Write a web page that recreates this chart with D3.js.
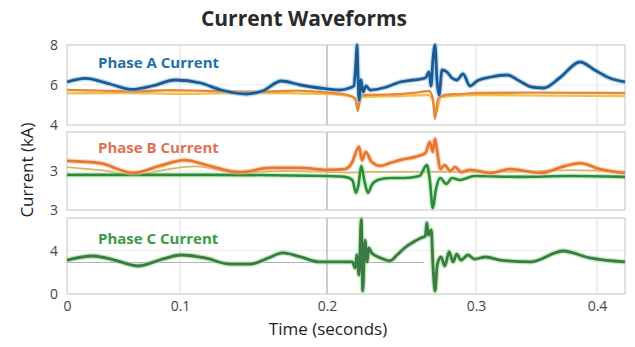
<!DOCTYPE html>
<html>
<head>
<meta charset="utf-8">
<script src="https://cdn.jsdelivr.net/npm/d3@7"></script>
<style>
  body { margin: 0; background: #fff; }
  svg { display: block; font-family: "Open Sans", "DejaVu Sans", sans-serif; }
</style>
</head>
<body>
<div id="chart"></div>
<script>
// Current waveforms - three stacked phase panels

const xTicks = [0, 0.1, 0.2, 0.3, 0.4];
const xTickLabels = ["0", "0.1", "0.2", "0.3", "0.4"];
const xBreaks = [0, 0.1, 0.2, 0.3, 0.4, 0.42];

const yTicksA = [4, 6, 8];
const yTickLabelsA = ["4", "6", "8"];
const yTicksB = [3, 4];
const yTickLabelsB = ["3", "3"];
const yTicksC = [0, 4];
const yTickLabelsC = ["0", "4"];

// [time (s), current (kA)]
const phaseA = [[0,6.15],[0.016,6.33],[0.038,6.05],[0.057,5.78],[0.075,5.95],[0.096,6.25],[0.114,6.1],[0.128,5.75],[0.145,5.55],[0.156,5.7],[0.169,6.2],[0.182,6.0],[0.195,5.85],[0.209,5.75],[0.215,5.85],[0.218,5.95],[0.2195,7.25],[0.2201,8.0],[0.2208,6.5],[0.2215,5.25],[0.2228,6.25],[0.2242,5.65],[0.2262,5.95],[0.229,5.75],[0.240,5.9],[0.249,6.15],[0.258,6.25],[0.266,6.35],[0.2685,6.65],[0.2698,5.95],[0.2711,7.25],[0.2725,8.0],[0.2738,6.25],[0.2752,5.5],[0.2772,6.75],[0.2805,6.65],[0.2839,6.35],[0.2872,6.25],[0.2913,6.55],[0.296,5.95],[0.3008,6.2],[0.312,6.4],[0.326,6.5],[0.336,6.2],[0.346,5.9],[0.356,5.85],[0.369,6.35],[0.386,7.15],[0.398,6.75],[0.409,6.35],[0.42,6.15]];
const phaseAOrange = [[0,5.75],[0.03,5.72],[0.06,5.68],[0.09,5.74],[0.12,5.7],[0.15,5.66],[0.18,5.72],[0.2,5.62],[0.214,5.5],[0.219,5.3],[0.2208,4.7],[0.2222,5.45],[0.226,5.5],[0.24,5.52],[0.26,5.62],[0.2685,5.7],[0.2711,5.3],[0.2725,4.3],[0.2745,5.3],[0.279,5.5],[0.29,5.55],[0.3,5.6],[0.35,5.62],[0.42,5.6]];
const phaseAYellow = [[0,5.58],[0.05,5.6],[0.1,5.56],[0.15,5.6],[0.2,5.55],[0.218,5.4],[0.2212,4.95],[0.2235,5.4],[0.25,5.45],[0.268,5.5],[0.2718,5.0],[0.273,4.55],[0.2765,5.4],[0.3,5.5],[0.36,5.47],[0.42,5.45]];

const phaseB = [[0,4.26],[0.029,4.2],[0.059,3.95],[0.082,4.13],[0.103,4.28],[0.120,4.13],[0.141,3.97],[0.161,4.08],[0.182,4.08],[0.2,4.03],[0.212,4.05],[0.217,4.23],[0.2195,4.49],[0.2215,4.62],[0.2235,4.28],[0.226,4.49],[0.230,4.23],[0.236,4.13],[0.242,4.2],[0.249,4.28],[0.259,4.36],[0.266,4.46],[0.269,4.74],[0.271,4.49],[0.2725,4.82],[0.274,4.49],[0.276,4.05],[0.279,4.15],[0.2826,4.0],[0.286,4.1],[0.290,3.97],[0.296,4.03],[0.312,3.95],[0.328,4.05],[0.353,3.95],[0.374,4.13],[0.386,4.2],[0.402,4.05],[0.42,3.95]];
const phaseBTan = [[0,4.1],[0.03,4.02],[0.06,3.9],[0.09,4.05],[0.11,4.12],[0.14,3.95],[0.17,4.0],[0.2,3.98],[0.215,3.96],[0.23,3.98],[0.26,3.98],[0.29,3.97],[0.33,3.98],[0.38,4.02],[0.42,3.96]];
const phaseBGreen = [[0,3.9],[0.12,3.9],[0.2,3.87],[0.212,3.85],[0.217,3.77],[0.2195,3.44],[0.221,3.62],[0.223,4.13],[0.225,3.77],[0.2275,3.44],[0.230,3.64],[0.234,3.77],[0.242,3.82],[0.252,3.82],[0.262,3.87],[0.267,4.15],[0.269,3.77],[0.271,3.05],[0.273,3.51],[0.276,3.82],[0.280,3.67],[0.284,3.82],[0.289,3.77],[0.299,3.87],[0.336,3.85],[0.378,3.87],[0.42,3.85]];

const phaseC = [[0,3.13],[0.023,3.5],[0.042,3.13],[0.063,2.58],[0.082,3.13],[0.101,3.59],[0.117,3.32],[0.134,2.76],[0.148,2.76],[0.160,3.32],[0.170,3.78],[0.182,3.41],[0.195,2.95],[0.209,2.95],[0.217,2.95],[0.219,2.4],[0.220,3.59],[0.2215,1.75],[0.223,6.9],[0.224,0.28],[0.2255,4.97],[0.227,2.95],[0.228,4.24],[0.230,3.78],[0.236,3.32],[0.242,3.05],[0.247,3.59],[0.252,4.24],[0.258,4.79],[0.263,5.16],[0.266,5.34],[0.267,6.54],[0.268,5.43],[0.270,5.9],[0.271,2.95],[0.2725,0.28],[0.274,2.67],[0.2765,3.41],[0.279,2.58],[0.282,3.87],[0.2846,2.95],[0.287,3.68],[0.290,3.13],[0.2946,3.59],[0.299,3.22],[0.308,3.41],[0.320,3.13],[0.345,2.95],[0.372,3.96],[0.394,3.32],[0.42,2.95]];
const phaseCRef = [[0,2.9],[0.265,2.9]];

const width = 635, height = 347;
const left = 67, right = 625;

const svg = d3.select("#chart").append("svg")
    .attr("width", width)
    .attr("height", height);

// the time axis in the picture is not evenly spaced
const x = d3.scaleLinear()
    .domain(xBreaks)
    .range([left, 180, 327, 476, 597, right]);

const panels = [
    { top: 45, bottom: 125, domain: [4, 8], ticks: yTicksA, labels: yTickLabelsA,
      title: "Phase A Current", titleColor: "#1f6fa8", titleY: 63,
      series: [
        { data: phaseAYellow, color: "#f0c04e", halo: null, w: 2.4 },
        { data: phaseAOrange, color: "#e8893a", halo: null, w: 2.4 },
        { data: phaseA, color: "#1d5a92", halo: "#7fc0ea", w: 2.8 }
      ] },
    { top: 132, bottom: 210, domain: [3, 5], ticks: yTicksB, labels: yTickLabelsB,
      title: "Phase B Current", titleColor: "#e0714f", titleY: 148,
      series: [
        { data: phaseBTan, color: "#d9b46a", halo: null, w: 1.8 },
        { data: phaseBGreen, color: "#2c8a3a", halo: "#9ee39a", w: 2.6 },
        { data: phaseB, color: "#e8782f", halo: "#f7c09a", w: 2.8 }
      ] },
    { top: 218, bottom: 294, domain: [0, 7], ticks: yTicksC, labels: yTickLabelsC,
      title: "Phase C Current", titleColor: "#3a9a42", titleY: 239,
      series: [
        { data: phaseCRef, color: "#b4b4b4", halo: null, w: 1.2 },
        { data: phaseC, color: "#3b7a45", halo: "#86dc7e", w: 2.8 }
      ] }
];

panels.forEach((p, i) => {
    const y = d3.scaleLinear().domain(p.domain).range([p.bottom, p.top]);
    const g = svg.append("g").attr("class", "panel-" + i);

    // horizontal grid
    g.selectAll(".hgrid").data(p.ticks.filter(t => t > p.domain[0] && t < p.domain[1]))
        .join("line")
        .attr("x1", left).attr("x2", right)
        .attr("y1", d => y(d)).attr("y2", d => y(d))
        .attr("stroke", "#ececec");

    // vertical grid
    g.selectAll(".vgrid").data(xTicks.slice(1))
        .join("line")
        .attr("x1", d => x(d)).attr("x2", d => x(d))
        .attr("y1", p.top).attr("y2", p.bottom)
        .attr("stroke", d => d === 0.2 ? "#9c9c9c" : "#dedede");

    g.append("rect")
        .attr("x", left).attr("y", p.top)
        .attr("width", right - left).attr("height", p.bottom - p.top)
        .attr("fill", "none").attr("stroke", "#c4c4c4");

    const line = d3.line()
        .x(d => x(d[0]))
        .y(d => y(d[1]))
        .curve(d3.curveMonotoneX);

    p.series.forEach(s => {
        if (s.halo) {
            g.append("path").attr("d", line(s.data))
                .attr("fill", "none").attr("stroke", s.halo)
                .attr("stroke-width", s.w + 2.5).attr("stroke-opacity", 0.55)
                .attr("stroke-linejoin", "round");
        }
        g.append("path").attr("d", line(s.data))
            .attr("fill", "none").attr("stroke", s.color)
            .attr("stroke-width", s.w).attr("stroke-linejoin", "round");
    });

    const yAxis = d3.axisLeft(y)
        .tickValues(p.ticks)
        .tickFormat((d, k) => p.labels[k])
        .tickSize(0)
        .tickPadding(9);
    const ya = g.append("g").attr("transform", `translate(${left},0)`).call(yAxis);
    ya.select(".domain").remove();
    ya.selectAll("text").attr("font-size", 14).attr("fill", "#444")
        .attr("font-family", "Open Sans, sans-serif");

    g.append("text")
        .attr("x", 98).attr("y", p.titleY)
        .attr("dy", "0.35em")
        .attr("font-size", 15).attr("font-weight", "bold")
        .attr("fill", p.titleColor)
        .text(p.title);
});

const xAxis = d3.axisBottom(x)
    .tickValues(xTicks)
    .tickFormat((d, k) => xTickLabels[k])
    .tickSize(0)
    .tickPadding(7);
const xa = svg.append("g").attr("transform", `translate(0,294)`).call(xAxis);
xa.select(".domain").remove();
xa.selectAll("text").attr("font-size", 14).attr("fill", "#444")
    .attr("font-family", "Open Sans, sans-serif");

svg.append("text")
    .attr("x", 304).attr("y", 19)
    .attr("text-anchor", "middle").attr("dy", "0.35em")
    .attr("font-size", 21).attr("font-weight", "bold").attr("fill", "#2a2a2a")
    .text("Current Waveforms");

svg.append("text")
    .attr("x", 328).attr("y", 329)
    .attr("text-anchor", "middle").attr("dy", "0.35em")
    .attr("font-size", 17).attr("fill", "#222")
    .text("Time (seconds)");

svg.append("text")
    .attr("transform", "translate(27,170) rotate(-90)")
    .attr("text-anchor", "middle").attr("dy", "0.35em")
    .attr("font-size", 17).attr("fill", "#222")
    .text("Current (kA)");
</script>
</body>
</html>
